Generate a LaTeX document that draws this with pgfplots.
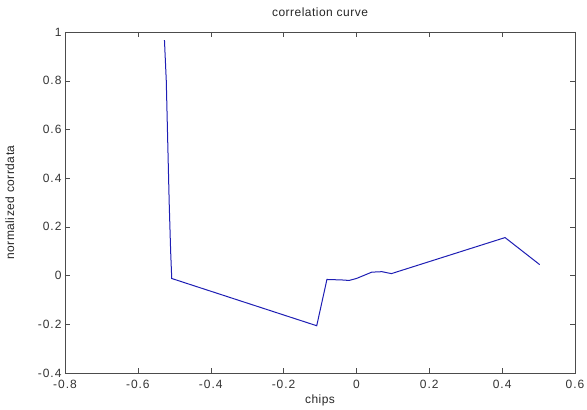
\documentclass[border=0pt]{standalone}
\usepackage{pgfplots}
\pgfplotsset{compat=1.18}
\usepackage{fontspec}
\setmainfont{Liberation Sans}
\newfontfamily\tickfont[LetterSpace=8]{Liberation Sans}
\newfontfamily\labfont[LetterSpace=4]{Liberation Sans}
\begin{document}
\begin{tikzpicture}
\begin{axis}[
  name=ax,
  scale only axis,
  width=510pt, height=341pt,
  xmin=-0.8, xmax=0.6, ymin=-0.4, ymax=1,
  xtick={-0.8,-0.6,...,0.6}, ytick={-0.4,-0.2,...,1},
  tick align=inside,
  major tick length=5pt,
  axis line style={black!70, line width=0.7pt},
  tick style={black!70},
  /pgf/number format/assume math mode=true,
  /pgf/number format/fixed,
  /pgf/number format/precision=1,
  ticklabel style={font=\tickfont\fontsize{12}{14}\selectfont, text=black!80},
  xticklabel style={yshift=-4pt},
  title={correlation curve},
  title style={font=\labfont\fontsize{12}{14}\selectfont, text=black!85,
    at={(axis description cs:0.5,1.04)}, anchor=center},
  xlabel={chips},
  xlabel style={font=\labfont\fontsize{12}{14}\selectfont, text=black!85,
    at={(axis description cs:0.5,-0.08)}, anchor=center},
  ylabel={normalized corrdata},
  ylabel style={font=\labfont\fontsize{12}{14}\selectfont, text=black!85,
    at={(axis description cs:-0.108,0.5)}, anchor=center},
]
\addplot[color={rgb,255:red,30;green,30;blue,180}, line width=1pt] coordinates {
  (-0.527,0.967) (-0.522,0.80) (-0.518,0.55) (-0.514,0.30) (-0.510,0.10) (-0.507,-0.012)
  (-0.109,-0.206) (-0.081,-0.016) (-0.04,-0.018) (-0.02,-0.020) (0.0,-0.012)
  (0.042,0.014) (0.07,0.016) (0.096,0.008) (0.408,0.156) (0.503,0.045)
};
\end{axis}
\pgfresetboundingbox
\path (ax.south west)+(-65pt,-37pt) coordinate (bl);
\path (ax.north east)+(12pt,32pt) coordinate (tr);
\path[use as bounding box] (bl) rectangle (tr);
\end{tikzpicture}
\end{document}
